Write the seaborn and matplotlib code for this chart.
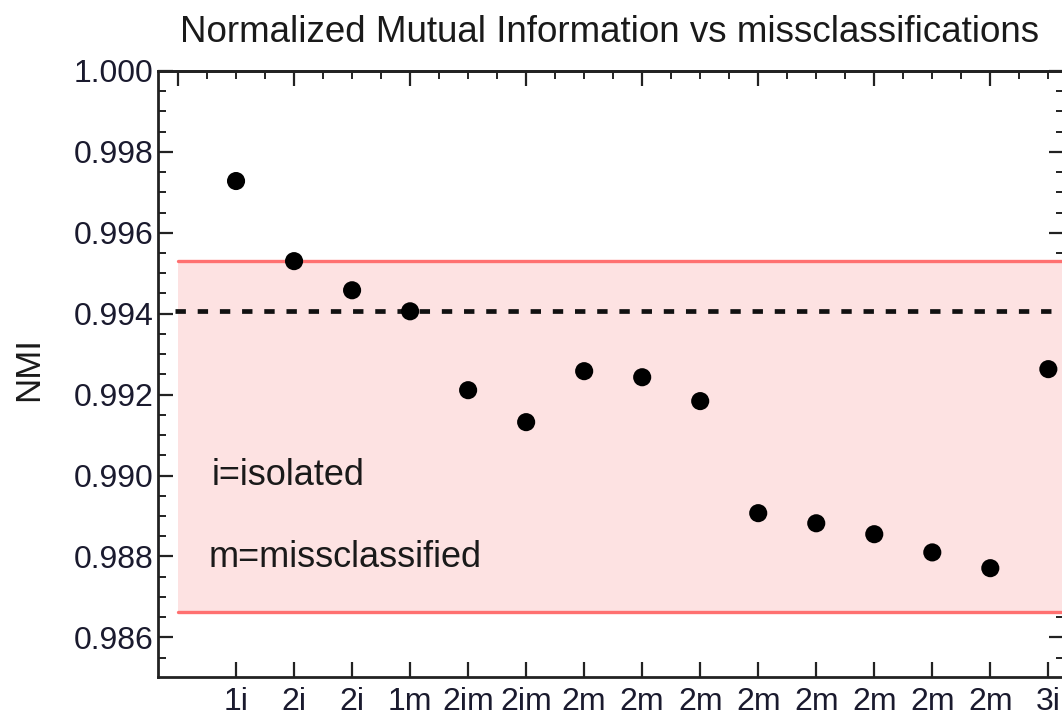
import numpy as np
import pandas as pd
import matplotlib
matplotlib.use("Agg")
import matplotlib.pyplot as plt
import seaborn as sns
from matplotlib.ticker import MultipleLocator

# Misclassification scenario for each run
labels = ["1i", "2i", "2i", "1m", "2im", "2im", "2m", "2m", "2m",
          "2m", "2m", "2m", "2m", "2m", "3i"]
# Normalized mutual information for each run
nmi = [0.99728, 0.99530, 0.99458, 0.99406, 0.99211, 0.99132, 0.99258,
       0.99243, 0.99184, 0.98907, 0.98882, 0.98855, 0.98810, 0.98771,
       0.99263]
# Reference level and tolerance band
nmi_ref = 0.99406
band_low, band_high = 0.98663, 0.99530

sns.set_style("ticks")
plt.rcParams["font.family"] = ["Liberation Sans", "DejaVu Sans"]

df = pd.DataFrame({"run": np.arange(1, len(nmi) + 1), "NMI": nmi})

fig = plt.figure(figsize=(10.62, 7.17), dpi=100)
ax = fig.add_axes([158 / 1062, 40 / 717, 906 / 1062, 606 / 717])

band_x = [0, 16]
ax.fill_between(band_x, band_low, band_high, color="#fde2e2", lw=0, zorder=1)
ax.plot(band_x, [band_high, band_high], color="#ff7070", lw=2.4, zorder=2)
ax.plot(band_x, [band_low, band_low], color="#ff7070", lw=2.4, zorder=2)
ax.plot([-0.05, 16], [nmi_ref, nmi_ref], color="#111111", lw=3.4,
        dashes=(2.2, 2.5), zorder=3)

sns.scatterplot(data=df, x="run", y="NMI", ax=ax, color="black", s=170,
                edgecolor="none", zorder=4, legend=False)

ax.set_xlim(-0.345, 15.27)
ax.set_ylim(0.98502, 1.0)

ax.set_xticks(df["run"])
ax.set_xticklabels(labels)
ax.yaxis.set_major_locator(MultipleLocator(0.002))
ax.yaxis.set_minor_locator(MultipleLocator(0.0005))
ax.set_yticklabels([f"{v:.3f}" for v in ax.get_yticks()])

ax.tick_params(axis="both", which="major", direction="in", length=11,
               width=1.6, color="#222222", labelsize=23, labelcolor="#1a1a2e",
               top=True, right=True, labeltop=False, labelright=False)
ax.tick_params(axis="y", which="minor", direction="in", length=6,
               width=1.4, color="#222222", right=True)
ax.tick_params(axis="x", which="major", top=False, pad=7)

# Top frame ticks carry their own spacing, without labels
top = ax.secondary_xaxis("top")
top.xaxis.set_major_locator(MultipleLocator(2))
top.xaxis.set_minor_locator(MultipleLocator(0.5))
top.tick_params(which="major", direction="in", length=11, width=1.6,
                color="#222222", labeltop=False)
top.tick_params(which="minor", direction="in", length=6, width=1.4,
                color="#222222")
top.spines["top"].set_linewidth(2.0)
top.spines["top"].set_color("#222222")

for side in ["left", "bottom", "right", "top"]:
    ax.spines[side].set_linewidth(2.0)
    ax.spines[side].set_color("#222222")
    ax.spines[side].set_visible(True)

ax.set_xlabel("")
ax.set_ylabel("")
fig.text(28.5 / 1062, 1 - 369 / 717, "NMI", rotation=90, fontsize=25,
         color="#1a1a1a", ha="center", va="center")

ax.text(0.58, 0.98976, "i=isolated", fontsize=26, color="#1a1a1a",
        va="baseline", ha="left", zorder=5)
ax.text(0.52, 0.98774, "m=missclassified", fontsize=26, color="#1a1a1a",
        va="baseline", ha="left", zorder=5)

fig.text(610 / 1062, 1 - 42.3 / 717,
         "Normalized Mutual Information vs missclassifications",
         fontsize=26.5, color="#1a1a1a", ha="center", va="baseline")

fig.savefig("out.png", dpi=100)
